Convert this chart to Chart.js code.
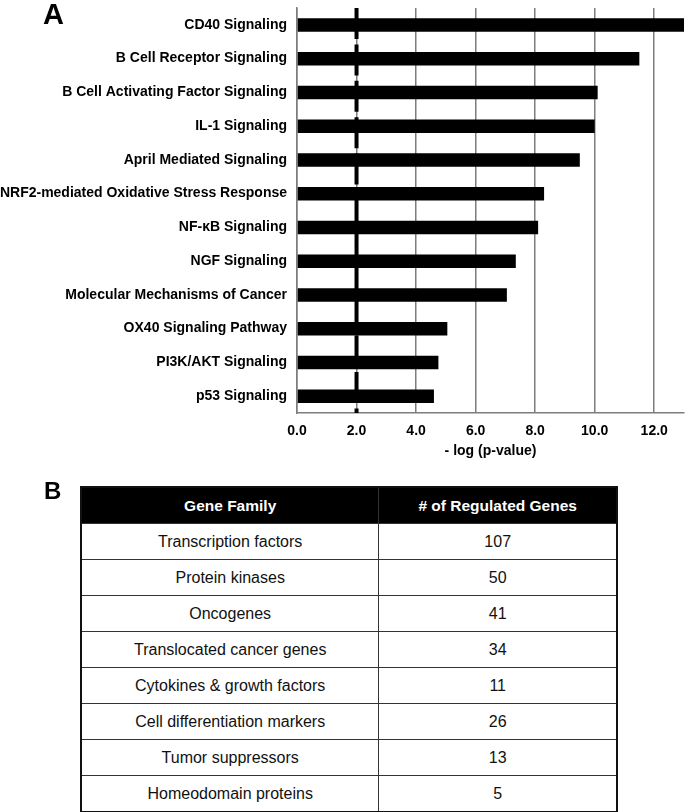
<!DOCTYPE html>
<html>
<head>
<meta charset="utf-8">
<script src="https://cdn.jsdelivr.net/npm/chart.js@4.4.1/dist/chart.umd.min.js"></script>
<style>
    body { margin: 0; background: #fff; font-family: "Liberation Sans", Arial, Helvetica, sans-serif; }
    #wrap { position: relative; width: 685px; height: 812px; overflow: hidden; }
    #myChart { position: absolute; left: 0; top: 0; }
    .panel { position: absolute; font-weight: bold; line-height: 1; color: #000; }
    #panelA { left: 43px; top: 0px; font-size: 29px; }
    #panelB { left: 44px; top: 479px; font-size: 24px; }
    #genes { position: absolute; left: 80px; top: 486px; width: 538px; border-collapse: collapse; border: 2px solid #111; }
    #genes th, #genes td { height: 35px; padding: 0; text-align: center; border: 1.5px solid #333; }
    #genes th { background: #000; color: #fff; font-weight: bold; font-size: 15.5px; }
    #genes td { font-size: 16px; color: #111; }
</style>
</head>
<body>
<div id="wrap">
    <canvas id="myChart" width="685" height="464"></canvas>
    <div class="panel" id="panelA">A</div>
    <div class="panel" id="panelB">B</div>
    <table id="genes"></table>
</div>
<script>
const pathways = [
    'CD40 Signaling',
    'B Cell Receptor Signaling',
    'B Cell Activating Factor Signaling',
    'IL-1 Signaling',
    'April Mediated Signaling',
    'NRF2-mediated Oxidative Stress Response',
    'NF-κB Signaling',
    'NGF Signaling',
    'Molecular Mechanisms of Cancer',
    'OX40 Signaling Pathway',
    'PI3K/AKT Signaling',
    'p53 Signaling'
];
const negLogP = [13.0, 11.5, 10.1, 10.0, 9.5, 8.3, 8.1, 7.35, 7.05, 5.05, 4.75, 4.6];
const xTicks = [0, 2, 4, 6, 8, 10, 12];
const threshold = 2.0;

const tableHeaders = ['Gene Family', '# of Regulated Genes'];
const geneFamilies = [
    'Transcription factors',
    'Protein kinases',
    'Oncogenes',
    'Translocated cancer genes',
    'Cytokines & growth factors',
    'Cell differentiation markers',
    'Tumor suppressors',
    'Homeodomain proteins'
];
const geneCounts = [107, 50, 41, 34, 11, 26, 13, 5];

const labelFont = { family: '"Liberation Sans", Arial, sans-serif', size: 14, weight: 'bold' };
const gridGray = '#7d7d7d';

// dashed significance line at -log(p) = 2
const thresholdLine = {
    id: 'thresholdLine',
    afterDatasetsDraw(chart) {
        const { ctx, chartArea, scales } = chart;
        const x = scales.x.getPixelForValue(threshold);
        ctx.save();
        ctx.strokeStyle = '#000';
        ctx.lineWidth = 4;
        ctx.setLineDash([31, 5.4]);
        ctx.beginPath();
        ctx.moveTo(x, chartArea.top);
        ctx.lineTo(x, chartArea.bottom);
        ctx.stroke();
        ctx.restore();
    }
};

function createChart() {
    const ctx = document.getElementById('myChart');
    new Chart(ctx, {
        type: 'bar',
        data: {
            labels: pathways,
            datasets: [{
                data: negLogP,
                backgroundColor: '#000',
                borderWidth: 0,
                barPercentage: 0.4,
                categoryPercentage: 1
            }]
        },
        options: {
            indexAxis: 'y',
            responsive: false,
            animation: false,
            layout: { padding: { top: 8, right: 1, left: 0, bottom: 0 } },
            plugins: {
                legend: { display: false },
                tooltip: { enabled: false }
            },
            scales: {
                x: {
                    min: 0,
                    max: 13,
                    afterBuildTicks: scale => {
                        scale.ticks = xTicks.map(v => ({ value: v }));
                    },
                    afterFit: scale => {
                        scale.height = 51;
                        scale.paddingRight = 0;
                    },
                    ticks: {
                        callback: v => Number(v).toFixed(1),
                        color: '#000',
                        font: labelFont,
                        padding: 10
                    },
                    grid: { color: gridGray, lineWidth: 1.5, drawTicks: false },
                    border: { color: gridGray, width: 1.5 },
                    title: {
                        display: true,
                        text: '- log (p-value)',
                        color: '#000',
                        font: labelFont,
                        padding: { top: 4, bottom: 4 }
                    }
                },
                y: {
                    afterFit: scale => {
                        scale.width = 297;
                        scale.paddingTop = 0;
                        scale.paddingBottom = 0;
                    },
                    ticks: {
                        color: '#000',
                        font: labelFont,
                        padding: 10
                    },
                    grid: { display: false, drawTicks: false },
                    border: { color: gridGray, width: 1.5 }
                }
            }
        },
        plugins: [thresholdLine]
    });
}

function buildTable() {
    const table = document.getElementById('genes');
    const head = document.createElement('tr');
    tableHeaders.forEach((h, i) => {
        const th = document.createElement('th');
        th.textContent = h;
        th.style.width = i === 0 ? '298px' : '238px';
        head.appendChild(th);
    });
    table.appendChild(head);
    geneFamilies.forEach((name, i) => {
        const tr = document.createElement('tr');
        [name, geneCounts[i]].forEach(val => {
            const td = document.createElement('td');
            td.textContent = val;
            tr.appendChild(td);
        });
        table.appendChild(tr);
    });
}

createChart();
buildTable();
</script>
</body>
</html>
